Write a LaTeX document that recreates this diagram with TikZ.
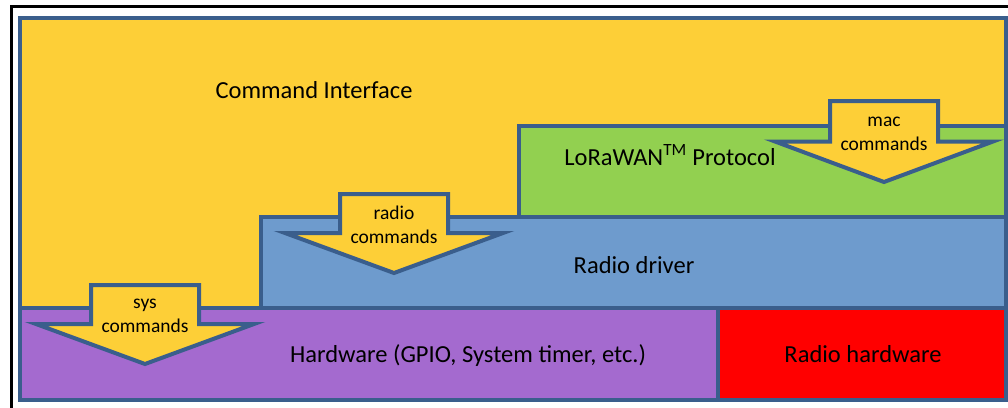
\documentclass[tikz,border=0pt]{standalone}
\usepackage{fontspec}
\setmainfont{Carlito}
\definecolor{cyel}{RGB}{253,207,55}
\definecolor{cgreen}{RGB}{146,208,80}
\definecolor{cblue}{RGB}{110,155,205}
\definecolor{cpurple}{RGB}{164,106,207}
\definecolor{cred}{RGB}{255,0,0}
\definecolor{cborder}{RGB}{58,94,140}
\begin{document}
\begin{tikzpicture}[x=1pt,y=-1pt,
  layer/.style={draw=cborder,line width=4pt,line join=miter},
  blockarrow/.style={draw=cborder,fill=cyel,line width=4pt,line join=miter},
  biglabel/.style={font=\fontsize{24.5}{28}\selectfont,anchor=base,inner sep=0pt},
  arrowlabel/.style={font=\fontsize{19.5}{24}\selectfont,align=center,inner sep=0pt}]
\useasboundingbox (0,0) rectangle (1008,407);
\fill[white] (0,0) rectangle (1008,407);
% outer frame
\draw[line width=2.7pt] (11.3,420) -- (11.3,6.7) -- (1020,6.7);
% layers
\draw[layer,fill=cyel] (20,18) rectangle (1005.5,308);
\draw[layer,fill=cgreen] (519,126) rectangle (1005.5,217);
\draw[layer,fill=cblue] (261,217) rectangle (1005.5,308);
\draw[layer,fill=cpurple] (20,308) rectangle (718,399.5);
\draw[layer,fill=cred] (718,308) rectangle (1005.5,399.5);
% labels
\node[biglabel] (ci) at (314,98) {Command Interface};
\node[biglabel] (lw) at (670,165) {LoRaWAN\textsuperscript{TM} Protocol};
\node[biglabel] (rd) at (634,273) {Radio driver};
\node[biglabel] (hw) at (468,362) {Hardware (GPIO, System timer, etc.)};
\node[biglabel] (rh) at (863,362) {Radio hardware};
% block arrows
\draw[blockarrow] (91,285) -- (199,285) -- (199,324) -- (254,324) -- (145,364) -- (36,324) -- (91,324) -- cycle;
\draw[blockarrow] (340,194) -- (448,194) -- (448,233) -- (503,233) -- (394,273) -- (285,233) -- (340,233) -- cycle;
\draw[blockarrow] (830,101) -- (938,101) -- (938,141.5) -- (993,141.5) -- (884,182) -- (775,141.5) -- (830,141.5) -- cycle;
\node[arrowlabel] (sys) at (145,316) {sys\\commands};
\node[arrowlabel] (rad) at (394,225) {radio\\commands};
\node[arrowlabel] (mac) at (884,134) {mac\\commands};
\end{tikzpicture}
\end{document}
